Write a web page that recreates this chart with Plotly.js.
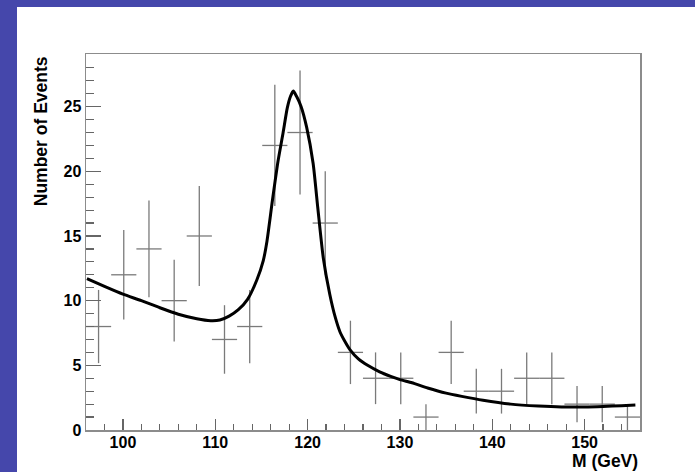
<!DOCTYPE html>
<html>
<head>
<meta charset="utf-8">
<script src="https://cdn.plot.ly/plotly-3.0.1.min.js"></script>
<style>
  html, body { margin: 0; padding: 0; background: #4547ab; width: 695px; height: 472px; overflow: hidden; }
  #chart { position: absolute; left: 17px; top: 7px; width: 678px; height: 465px; background: #fff; }
</style>
</head>
<body>
<div id="chart"></div>
<script>
// Histogram (data points): bin centres, counts, errors
const binCenters = [97.36, 100.09, 102.82, 105.55, 108.27, 111.0, 113.73, 116.45, 119.18, 121.91, 124.64,
                    127.36, 130.09, 132.82, 135.55, 138.27, 141.0, 143.73, 146.45, 149.18, 151.91, 154.64];
const counts = [8, 12, 14, 10, 15, 7, 8, 22, 23, 16, 6, 4, 4, 1, 6, 3, 3, 4, 4, 2, 2, 1];
const countErr = [2.83, 3.46, 3.74, 3.16, 3.87, 2.65, 2.83, 4.69, 4.80, 4.0, 2.45,
                  2.0, 2.0, 1.0, 2.45, 1.73, 1.73, 2.0, 2.0, 1.41, 1.41, 1.0];
const binHalfWidth = [1.364, 1.364, 1.364, 1.364, 1.364, 1.364, 1.364, 1.364, 1.364, 1.364, 1.364,
                      1.364, 1.364, 1.364, 1.364, 1.364, 1.364, 1.364, 1.364, 1.364, 1.364, 1.364];

// Fit curve
const fitX = [96.1, 98, 100, 102, 104, 106, 108, 109.5, 110.5, 111.5, 112.5, 113.5, 114.5, 115.2, 115.6,
              116.2, 116.8, 117.35, 117.8, 118.15, 118.45, 118.8, 119.3, 119.9, 120.6, 121.1, 121.7, 122.4,
              123.0, 123.5, 124.0, 124.6, 125.5, 126.5, 127.8, 129, 130, 131.3, 133, 135, 136.7, 139,
              142, 145, 147.5, 150, 152, 154, 155.5];
const fitY = [11.7, 11.1, 10.5, 10.0, 9.45, 8.95, 8.6, 8.45, 8.5, 8.8, 9.3, 10.1, 11.6, 13.1, 14.6,
              17.8, 20.8, 23.0, 24.9, 25.8, 26.2, 25.8, 25.0, 23.4, 20.6, 17.2, 13.3, 10.5,
              8.7, 7.6, 6.9, 6.2, 5.5, 5.0, 4.5, 4.15, 3.9, 3.65, 3.25, 2.85, 2.6, 2.3,
              2.0, 1.85, 1.78, 1.78, 1.82, 1.88, 1.93];

const xTitle = 'M (GeV)';
const yTitle = 'Number of Events';

const errColor = '#7a7a7a';
const axisFont = { family: 'Liberation Sans, Arial, sans-serif', size: 16, color: '#000', weight: 'bold' };
const titleFont = { family: 'Liberation Sans, Arial, sans-serif', size: 17.5, color: '#000', weight: 'bold' };

const traces = [
  {
    type: 'scatter', mode: 'markers',
    x: binCenters, y: counts,
    marker: { size: 1, color: 'rgba(0,0,0,0)' },
    error_y: { type: 'data', array: countErr, visible: true, color: errColor, thickness: 1.3, width: 0 },
    error_x: { type: 'data', array: binHalfWidth, visible: true, color: errColor, thickness: 1.3, width: 0 },
    hoverinfo: 'skip', showlegend: false, cliponaxis: true
  },
  {
    type: 'scatter', mode: 'lines',
    x: fitX, y: fitY,
    line: { color: '#000', width: 3, shape: 'spline', smoothing: 0.6 },
    showlegend: false
  }
];

const layout = {
  width: 678, height: 465,
  margin: { l: 69, r: 55, t: 47, b: 42 },
  paper_bgcolor: '#fff', plot_bgcolor: '#fff',
  showlegend: false,
  xaxis: {
    range: [96, 156], showgrid: false, zeroline: false,
    showline: true, mirror: true, linecolor: '#8c8c8c', linewidth: 1.5,
    ticks: 'inside', tick0: 100, dtick: 10, ticklen: 11, tickwidth: 1.3, tickcolor: '#666',
    minor: { ticks: 'inside', tick0: 0, dtick: 2, ticklen: 6, tickwidth: 1.2, tickcolor: '#666', showgrid: false },
    tickfont: axisFont, ticklabelstandoff: -3
  },
  yaxis: {
    range: [0, 29.07], showgrid: false, zeroline: false,
    showline: true, mirror: true, linecolor: '#8c8c8c', linewidth: 1.5,
    ticks: 'inside', tick0: 0, dtick: 5, ticklen: 15, tickwidth: 1.3, tickcolor: '#666',
    minor: { ticks: 'inside', tick0: 0, dtick: 1, ticklen: 8, tickwidth: 1.2, tickcolor: '#666', showgrid: false },
    tickfont: axisFont
  },
  annotations: [
    {
      text: yTitle, xref: 'paper', yref: 'paper',
      x: -0.081, y: 0.795, xanchor: 'center', yanchor: 'middle',
      textangle: -90, showarrow: false,
      font: titleFont
    },
    {
      text: xTitle, xref: 'paper', yref: 'paper',
      x: 1.0, y: -0.083, xanchor: 'right', yanchor: 'middle',
      showarrow: false,
      font: titleFont
    }
  ]
};

Plotly.newPlot('chart', traces, layout, { displayModeBar: false, staticPlot: true });
</script>
</body>
</html>
